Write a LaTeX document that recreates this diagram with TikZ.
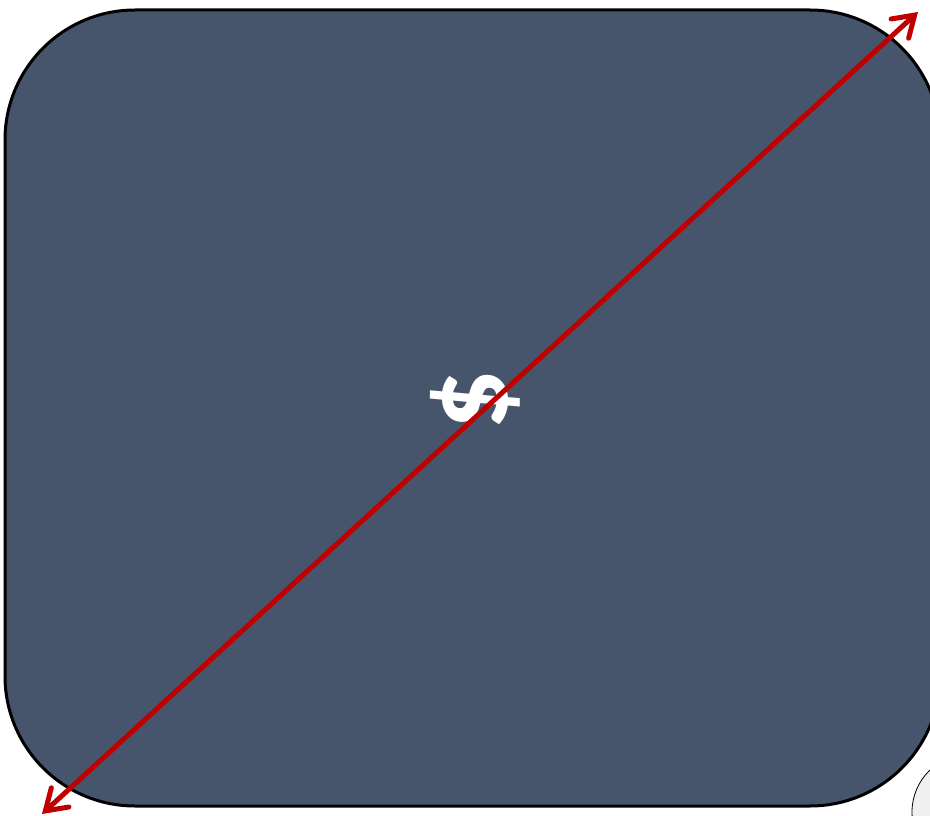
\documentclass[tikz,border=0pt]{standalone}
\usepackage{fontspec}
\newfontfamily\labelfont{Carlito}
\usetikzlibrary{arrows.meta,positioning}
\definecolor{panelblue}{HTML}{46556B}
\definecolor{arrowred}{HTML}{C00000}
\tikzset{
  panel/.style={draw=black,line width=3pt,fill=panelblue,rounded corners=130pt,
    minimum width=935pt,minimum height=796pt,inner sep=0pt},
  bubble/.style={circle,draw=black,line width=.8pt,fill=black!6,minimum size=116pt,inner sep=0pt},
  diag/.style={draw=arrowred,line width=5pt,
    {Straight Barb[length=20pt,width=26pt,line cap=round]}-{Straight Barb[length=20pt,width=26pt,line cap=round]}}
}

\begin{document}
\begin{tikzpicture}[x=1pt,y=-1pt]
    \useasboundingbox (0,0) rectangle (930,816);
    \clip (0,0) rectangle (930,816);
    \node[bubble] (bubble) at (970,812) {};
    \node[panel] (panel) at (472.5,408) {};
    \node[rotate=90,text=white,font=\labelfont\bfseries\fontsize{120}{120}\selectfont] (dollar) at (475,400) {\$};
    \coordinate (low) at (42,814);
    \coordinate (high) at (918,12);
    \draw[diag] (low) -- (high);
  \end{tikzpicture}
\end{document}
